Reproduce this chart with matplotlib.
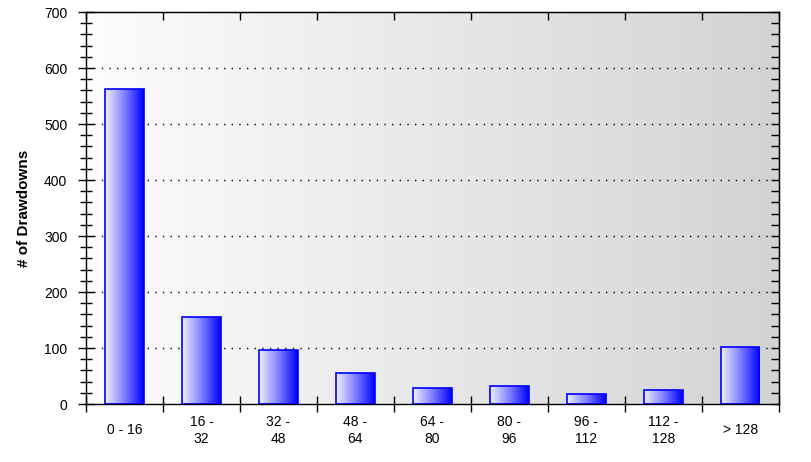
import numpy as np
import matplotlib
matplotlib.use('Agg')
import matplotlib.pyplot as plt
from matplotlib.colors import LinearSegmentedColormap
from matplotlib.ticker import MultipleLocator, FixedLocator

plt.rcParams['font.family'] = ['Liberation Sans', 'DejaVu Sans']

categories = ['0 - 16', '16 -\n32', '32 -\n48', '48 -\n64', '64 -\n80',
              '80 -\n96', '96 -\n112', '112 -\n128', '> 128']
counts = [562, 155, 96, 55, 28, 32, 17, 25, 101]

fig = plt.figure(figsize=(8.12, 4.62), dpi=100)
ax = fig.add_axes([0.106, 0.1255, 0.853, 0.8485])

x = np.arange(len(categories))
ax.set_xlim(-0.5, len(categories) - 0.5)
ax.set_ylim(0, 700)

# plot background gradient
bg = LinearSegmentedColormap.from_list('bg', ['#fdfdfd', '#d3d3d3'])
ax.imshow(np.linspace(0, 1, 256).reshape(1, -1), cmap=bg, aspect='auto',
          extent=[0, 1, 0, 1], transform=ax.transAxes, zorder=0)

# dotted grid
for v in range(100, 700, 100):
    ax.axhline(v, color='black', lw=1.0, ls=(0, (1, 4.5)), zorder=1)

# bars with white->blue gradient
barcm = LinearSegmentedColormap.from_list('bar', ['#f0f0ff', '#8080ff', '#0000ff'])
grad = np.linspace(0, 1, 256).reshape(1, -1)
bars = ax.bar(x, counts, width=0.5, facecolor='none', edgecolor='#0000ff',
              linewidth=1.2, zorder=3)
for b in bars:
    x0, y0 = b.get_x(), b.get_y()
    im = ax.imshow(grad, cmap=barcm, aspect='auto',
                   extent=[x0, x0 + b.get_width(), y0, y0 + b.get_height()],
                   zorder=2)
    im.set_clip_path(b)

# left axis ticks
ax.yaxis.set_major_locator(MultipleLocator(100))
ax.yaxis.set_minor_locator(MultipleLocator(20))
ax.tick_params(axis='y', which='major', direction='inout', length=11, width=1,
               labelsize=10, pad=8)
ax.tick_params(axis='y', which='minor', direction='inout', length=8, width=1)

# bottom: labels at centers, ticks at boundaries
ax.set_xticks(x)
ax.set_xticklabels(categories, fontsize=10, linespacing=1.25, va='center')
ax.tick_params(axis='x', which='major', length=0, pad=19)
ax.xaxis.set_minor_locator(FixedLocator(np.arange(-0.5, len(categories), 1)))
ax.tick_params(axis='x', which='minor', direction='inout', length=11, width=1)

# right and top spines with inward ticks
sec_y = ax.secondary_yaxis('right')
sec_y.yaxis.set_major_locator(MultipleLocator(100))
sec_y.yaxis.set_minor_locator(MultipleLocator(20))
sec_y.tick_params(which='both', direction='in', length=6, width=1, labelright=False)
sec_x = ax.secondary_xaxis('top')
sec_x.set_xticks(np.arange(-0.5, len(categories), 1))
sec_x.tick_params(direction='in', length=6, width=1, labeltop=False)

for s in ax.spines.values():
    s.set_linewidth(1)

ax.set_ylabel('# of Drawdowns', fontsize=11, fontweight='bold', labelpad=9)

fig.savefig('out.png', dpi=100)
